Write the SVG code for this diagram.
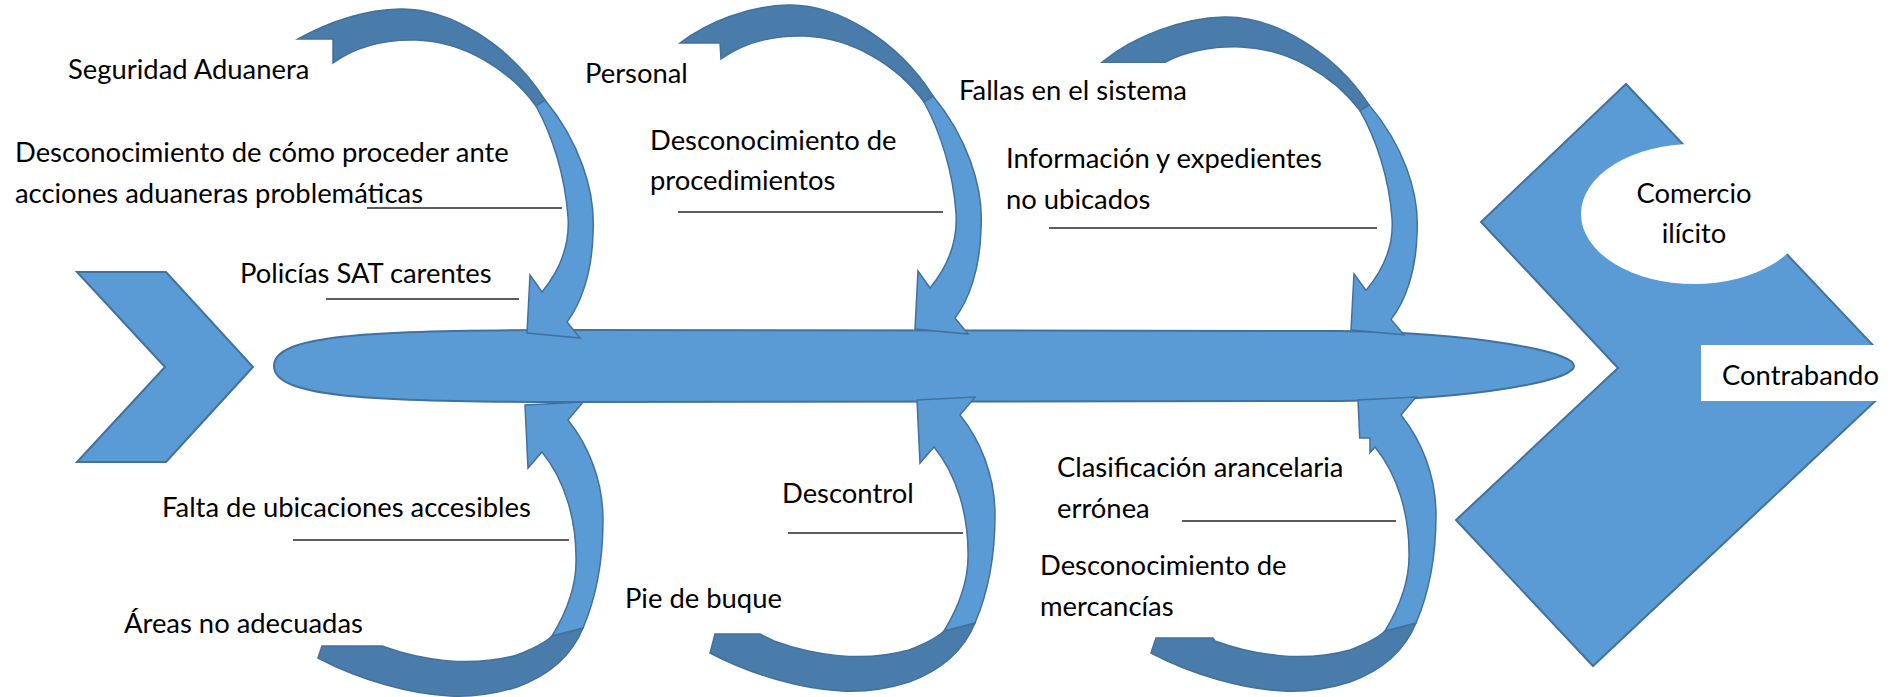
<svg xmlns="http://www.w3.org/2000/svg" width="1900" height="697" viewBox="0 0 1900 697">
<style>
.shape{fill:#5b9bd5;stroke:#41719c;stroke-width:2;stroke-linejoin:miter}
.arr{fill:#5b9bd5;stroke:#41719c;stroke-width:1.5;stroke-linejoin:miter}
.dark{fill:#497caa;stroke:#41719c;stroke-width:1.5;stroke-linejoin:miter}
.ln{stroke:#262626;stroke-width:1.5;fill:none}
text{font-family:"Lato","Liberation Sans",sans-serif;font-size:27.4px;fill:#000}
</style>
<rect width="1900" height="697" fill="#fff"/>
<defs>
<path id="tdark1" d="M298,39 C325,24 360,10 400,9 C450,8 510,45 545,100 L536,106 C510,70 465,42 417,40 C385,39 355,47 333,63 L333,39 Z"/>
<path id="tlight" d="M545,100 C578,140 596,190 593,233 C592,275 580,305 567,322 L580,338 L527,333 L530,275 L542,292 C560,270 570,245 568,217 C565,175 552,135 536,106 Z"/>
<path id="blight" d="M552,636 C568,610 577,585 576,557 C576,520 565,480 542,452 L528,468 L525,405 L583,402 L568,420 C588,445 603,480 603,520 C603,565 595,600 583,628 Z"/>
</defs>

<g id="tail-chevron">
<polygon class="shape" points="77,272 166,272 253,367 166,462 77,462 165,367"/>
</g>

<g id="spine">
<path class="shape" d="M274,366 C274,336 360,330 560,330 L1340,331 C1480,333 1574,352 1574,366 C1574,380 1480,399 1340,401 L560,402 C360,402 274,396 274,366 Z"/>
</g>

<g id="head-effect">
<polygon class="shape" points="1626,84 1902,376 1593,666 1456,520 1618,368 1481,222"/>
<ellipse cx="1694" cy="214" rx="113" ry="70" fill="#fff"/>
<rect x="1701" y="345" width="199" height="56" fill="#fff"/>
<text x="1694" y="203" text-anchor="middle">Comercio</text>
<text x="1694" y="243" text-anchor="middle">ilícito</text>
<text x="1722" y="385">Contrabando</text>
</g>

<g id="connectors">
<g id="arrow-top-1">
<use href="#tlight" class="arr"/>
<use href="#tdark1" class="dark"/>
</g>
<g id="arrow-top-2" transform="translate(388,-4)">
<use href="#tlight" class="arr"/>
<path class="dark" d="M292,47 C320,26 360,10 400,9 C450,8 510,45 545,100 L536,106 C510,70 465,42 417,40 C385,39 355,47 333,63 L332,47 Z"/>
</g>
<g id="arrow-top-3" transform="matrix(1,0,0,0.966,824,8.3)">
<use href="#tlight" class="arr"/>
<path class="dark" d="M278,56 C310,28 360,10 400,9 C450,8 510,45 545,100 L536,106 C510,70 465,42 417,40 C388,39 360,45 341,56 Z"/>
</g>
<g id="arrow-bottom-1">
<path class="dark" d="M583,628 C572,655 550,675 517,687 C495,694 472,697 450,696 C410,694 360,680 318,658 L322,646 L382,646 C420,660 470,668 517,655 C535,648 545,643 552,636 Z"/>
<use href="#blight" class="arr"/>
</g>
<g id="arrow-bottom-2" transform="translate(392,-5)">
<path class="dark" d="M583,628 C572,655 550,675 517,687 C495,694 472,697 450,696 C410,694 360,680 318,658 L323,639 L368,639 L382,646 C420,660 470,668 517,655 C535,648 545,643 552,636 Z"/>
<use href="#blight" class="arr"/>
</g>
<g id="arrow-bottom-3" transform="translate(833,-5)">
<path class="dark" d="M583,628 C572,655 550,675 517,687 C495,694 472,697 450,696 C410,694 360,680 318,658 L323,643 L380,643 L382,646 C420,660 470,668 517,655 C535,648 545,643 552,636 Z"/>
<path class="arr" d="M552,636 C568,610 577,585 576,557 C576,520 565,480 542,452 L537,457.7 L537,443 L526.7,443 L525,405 L583,402 L568,420 C588,445 603,480 603,520 C603,565 595,600 583,628 Z"/>
</g>
<line class="ln" x1="367" y1="208" x2="562" y2="208"/>
<line class="ln" x1="326" y1="299" x2="519" y2="299"/>
<line class="ln" x1="678" y1="212" x2="943" y2="212"/>
<line class="ln" x1="1049" y1="228" x2="1377" y2="228"/>
<line class="ln" x1="293" y1="540" x2="569" y2="540"/>
<line class="ln" x1="788" y1="533" x2="963" y2="533"/>
<line class="ln" x1="1182" y1="521" x2="1396" y2="521"/>
</g>

<g id="cause-seguridad"><text x="68" y="79">Seguridad Aduanera</text></g>
<g id="cause-desconocimiento-acciones"><text x="15" y="162">Desconocimiento de cómo proceder ante</text><text x="15" y="203">acciones aduaneras problemáticas</text></g>
<g id="cause-policias"><text x="240" y="283">Policías SAT carentes</text></g>
<g id="cause-personal"><text x="585" y="83">Personal</text></g>
<g id="cause-procedimientos"><text x="650" y="150">Desconocimiento de</text><text x="650" y="190">procedimientos</text></g>
<g id="cause-fallas"><text x="959" y="100">Fallas en el sistema</text></g>
<g id="cause-informacion"><text x="1006" y="168">Información y expedientes</text><text x="1006" y="209">no ubicados</text></g>
<g id="cause-falta"><text x="162" y="517">Falta de ubicaciones accesibles</text></g>
<g id="cause-areas"><text x="124" y="633">Áreas no adecuadas</text></g>
<g id="cause-descontrol"><text x="782" y="503">Descontrol</text></g>
<g id="cause-pie"><text x="625" y="608">Pie de buque</text></g>
<g id="cause-clasificacion"><text x="1057" y="477">Clasificación arancelaria</text><text x="1057" y="518">errónea</text></g>
<g id="cause-mercancias"><text x="1040" y="575">Desconocimiento de</text><text x="1040" y="616">mercancías</text></g>
</svg>
